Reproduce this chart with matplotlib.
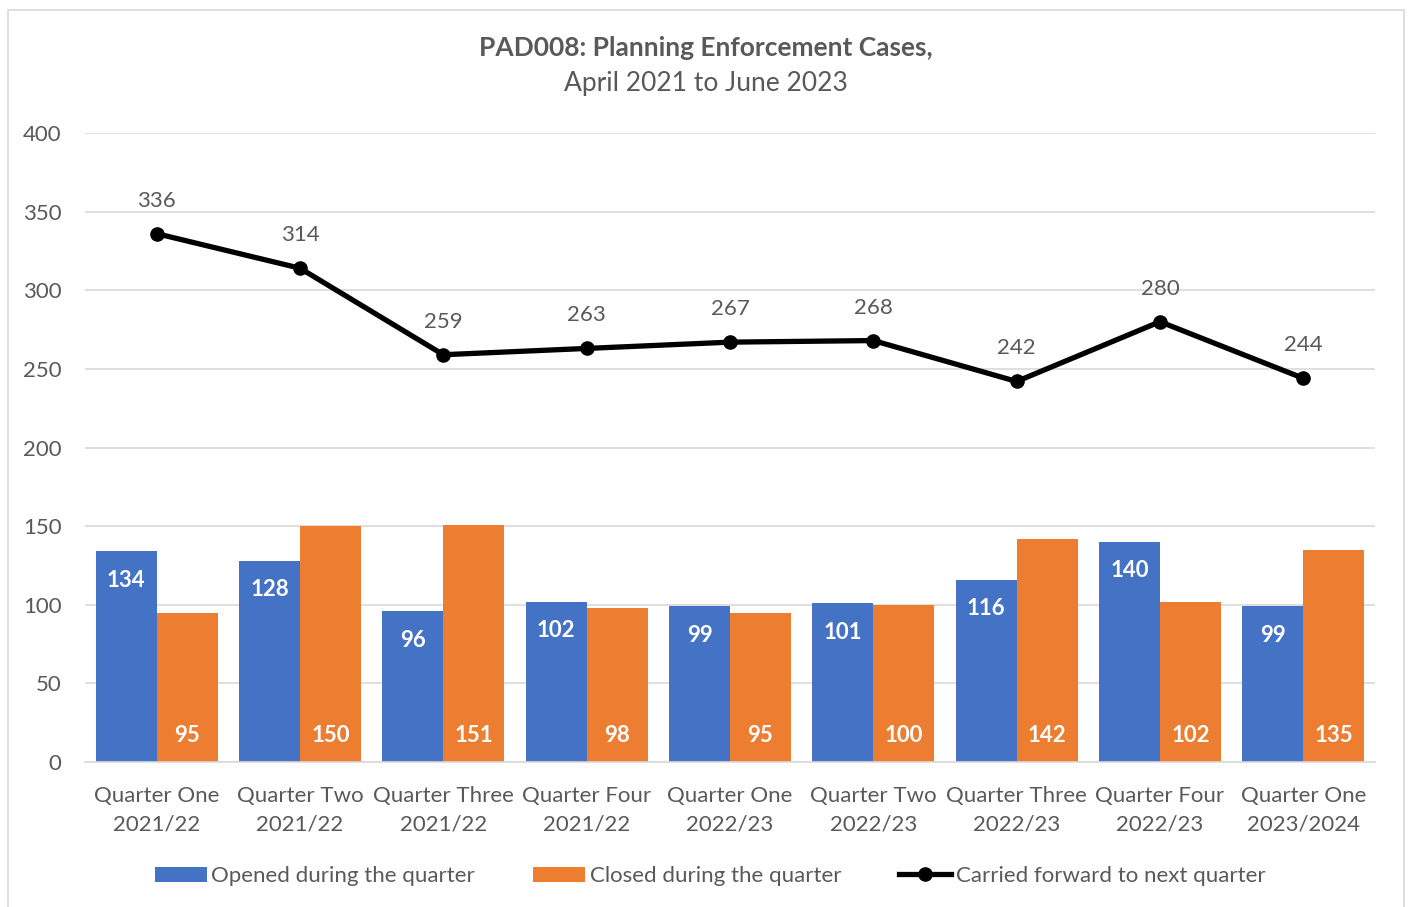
import matplotlib
matplotlib.use("Agg")
import matplotlib.pyplot as plt
import numpy as np
from matplotlib.patches import Rectangle, Patch
from matplotlib.lines import Line2D

plt.rcParams['font.family'] = ['Lato', 'DejaVu Sans']

categories = ["Quarter One\n2021/22", "Quarter Two\n2021/22", "Quarter Three\n2021/22",
              "Quarter Four\n2021/22", "Quarter One\n2022/23", "Quarter Two\n2022/23",
              "Quarter Three\n2022/23", "Quarter Four\n2022/23", "Quarter One\n2023/2024"]
opened = [134, 128, 96, 102, 99, 101, 116, 140, 99]
closed = [95, 150, 151, 98, 95, 100, 142, 102, 135]
carried = [336, 314, 259, 263, 267, 268, 242, 280, 244]
yticks = [0, 50, 100, 150, 200, 250, 300, 350, 400]

BLUE = "#4472C4"
ORANGE = "#ED7D31"
GRAY = "#595959"
GRID = "#D9D9D9"

W, H = 1408, 907
fig = plt.figure(figsize=(W / 100, H / 100), dpi=100)
fig.patches.append(Rectangle((8 / W, -0.01), (1404 - 8) / W, 1 - 10 / H + 0.01,
                             transform=fig.transFigure, fill=False,
                             edgecolor="#D9D9D9", linewidth=1.2))

ax = fig.add_axes([85 / W, (H - 762) / H, (1375 - 85) / W, (762 - 133) / H])
x = np.arange(len(categories))
bw = 0.425
ax.bar(x - bw / 2, opened, bw, color=BLUE, zorder=2)
ax.bar(x + bw / 2, closed, bw, color=ORANGE, zorder=2)
ax.plot(x, carried, color="black", linewidth=3.8, marker="o", markersize=9.5, zorder=3)

for xi, v in zip(x, opened):
    ax.text(xi - bw / 2, v - 18.5, str(v), ha="center", va="center", color="white",
            fontsize=16, fontweight="bold", zorder=4)
for xi, v in zip(x, closed):
    ax.text(xi + bw / 2, 17, str(v), ha="center", va="center", color="white",
            fontsize=16, fontweight="bold", zorder=4)
for xi, v in zip(x, carried):
    ax.text(xi, v + 21, str(v), ha="center", va="center", color=GRAY,
            fontsize=16, zorder=4)

ax.set_xlim(-0.5, len(categories) - 0.5)
ax.set_ylim(0, 400)
ax.set_yticks(yticks)
ax.set_xticks(x)
ax.set_xticklabels(categories)
ax.tick_params(axis="both", length=0, colors=GRAY, labelsize=16)
ax.tick_params(axis="y", pad=17)
ax.tick_params(axis="x", pad=17)
for lbl in ax.get_xticklabels():
    lbl.set_linespacing(1.55)
ax.grid(axis="y", color=GRID, linewidth=1.2, zorder=0)
for s in ["top", "right", "left"]:
    ax.spines[s].set_visible(False)
ax.spines["bottom"].set_color(GRID)
ax.spines["bottom"].set_linewidth(1.2)

fig.text(706 / W, 1 - 48 / H, "PAD008: Planning Enforcement Cases,", ha="center", va="center",
         fontsize=19, fontweight="bold", color=GRAY)
fig.text(706 / W, 1 - 84 / H, "April 2021 to June 2023", ha="center", va="center",
         fontsize=19, color=GRAY)

handles = [Patch(facecolor=BLUE), Patch(facecolor=ORANGE),
           Line2D([0], [0], color="black", linewidth=3.8, marker="o", markersize=9.5)]
labels = ["Opened during the quarter", "Closed during the quarter", "Carried forward to next quarter"]
fig.legend(handles, labels, loc="center", bbox_to_anchor=(710 / W, 1 - 876 / H), ncol=3,
           frameon=False, fontsize=16, labelcolor=GRAY, handlelength=2.35, handleheight=0.65,
           handletextpad=0.2, columnspacing=2.6)

fig.savefig("out.png", dpi=100)
